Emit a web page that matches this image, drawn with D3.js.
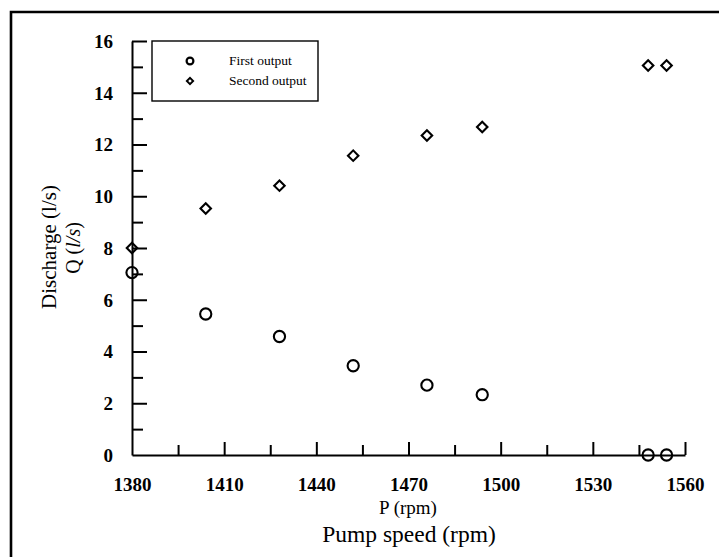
<!DOCTYPE html>
<html>
<head>
<meta charset="utf-8">
<script src="https://cdn.jsdelivr.net/npm/d3@7"></script>
<style>
html,body{margin:0;padding:0;background:#fff;}
svg{display:block;}
</style>
</head>
<body>
<svg id="chart" width="719" height="557"></svg>
<script>
// ---- data ----
const speedFirst = [1380, 1404, 1428, 1452, 1476, 1494, 1548, 1554];
const dischargeFirst = [7.05, 5.45, 4.58, 3.45, 2.7, 2.33, 0, 0];
const speedSecond = [1380, 1404, 1428, 1452, 1476, 1494, 1548, 1554];
const dischargeSecond = [8.0, 9.53, 10.41, 11.57, 12.35, 12.68, 15.05, 15.05];
const xMajorTicks = [1380, 1410, 1440, 1470, 1500, 1530, 1560];
const xMinorTicks = [1395, 1425, 1455, 1485, 1515, 1545];
const yMajorTicks = [0, 2, 4, 6, 8, 10, 12, 14, 16];
const yMinorTicks = [1, 3, 5, 7, 9, 11, 13, 15];
const seriesNames = ["First output", "Second output"];

const svg = d3.select("#chart");
const serif = "'Liberation Serif','Times New Roman',serif";

// outer frame (left and top edges)
svg.append("path")
  .attr("d", "M11,557V12H719")
  .attr("fill", "none").attr("stroke", "#000").attr("stroke-width", 2.6);

const x = d3.scaleLinear().domain([1380, 1560]).range([132, 685]);
const y = d3.scaleLinear().domain([0, 16]).range([455, 41]);

// X axis
const gx = svg.append("g").attr("transform", "translate(0,455)");
gx.call(d3.axisBottom(x).tickValues(xMajorTicks).tickSizeInner(-13).tickSizeOuter(0).tickPadding(0).tickFormat(d3.format("d")));
gx.selectAll(".tick line").filter(d => d === 1380).remove();
const gxm = svg.append("g").attr("transform", "translate(0,455)");
gxm.call(d3.axisBottom(x).tickValues(xMinorTicks).tickSizeInner(-10).tickSizeOuter(0).tickFormat(""));
gxm.select(".domain").remove();

// Y axis
const gy = svg.append("g").attr("transform", "translate(132,0)");
gy.call(d3.axisLeft(y).tickValues(yMajorTicks).tickSizeInner(-15).tickSizeOuter(0).tickPadding(19));
gy.selectAll(".tick line").filter(d => d === 0).remove();
const gym = svg.append("g").attr("transform", "translate(132,0)");
gym.call(d3.axisLeft(y).tickValues(yMinorTicks).tickSizeInner(-11).tickSizeOuter(0).tickFormat(""));
gym.select(".domain").remove();

[gx, gxm, gy, gym].forEach(g => {
  g.selectAll("path.domain").attr("stroke", "#000").attr("stroke-width", 2);
  g.selectAll(".tick line").attr("stroke", "#000").attr("stroke-width", 2);
});
gx.selectAll(".tick text")
  .attr("y", 36).attr("dy", null)
  .attr("font-family", serif).attr("font-size", 19).attr("font-weight", "bold").attr("fill", "#000");
gy.selectAll(".tick text")
  .attr("dy", "0.34em")
  .attr("font-family", serif).attr("font-size", 19).attr("font-weight", "bold").attr("fill", "#000");

// series
const first = speedFirst.map((s, i) => ({s, q: dischargeFirst[i]}));
const second = speedSecond.map((s, i) => ({s, q: dischargeSecond[i]}));

svg.append("g").selectAll("circle").data(first).join("circle")
  .attr("cx", d => x(d.s)).attr("cy", d => y(d.q)).attr("r", 5.6)
  .attr("fill", "none").attr("stroke", "#000").attr("stroke-width", 2.1);

const diamond = d3.symbol().type(d3.symbolSquare).size(55);
svg.append("g").selectAll("path").data(second).join("path")
  .attr("d", diamond)
  .attr("transform", d => `translate(${x(d.s)},${y(d.q)}) rotate(45)`)
  .attr("fill", "none").attr("stroke", "#000").attr("stroke-width", 2.1);

// legend
const lg = svg.append("g");
lg.append("rect").attr("x", 152).attr("y", 41).attr("width", 166).attr("height", 60)
  .attr("fill", "#fff").attr("stroke", "#000").attr("stroke-width", 1.4);
lg.append("circle").attr("cx", 190).attr("cy", 61).attr("r", 3.4)
  .attr("fill", "none").attr("stroke", "#000").attr("stroke-width", 2.2);
lg.append("path").attr("d", d3.symbol().type(d3.symbolSquare).size(20)())
  .attr("transform", "translate(190,81) rotate(45)")
  .attr("fill", "none").attr("stroke", "#000").attr("stroke-width", 1.9);
lg.selectAll("text").data(seriesNames).join("text")
  .attr("x", 229).attr("y", (d, i) => 65 + i * 20)
  .attr("font-family", serif).attr("font-size", 13.5).attr("fill", "#000")
  .text(d => d);

// axis titles
svg.append("text").attr("x", 408).attr("y", 514).attr("text-anchor", "middle")
  .attr("font-family", serif).attr("font-size", 19).text("P (rpm)");
svg.append("text").attr("x", 409).attr("y", 542).attr("text-anchor", "middle")
  .attr("font-family", serif).attr("font-size", 23.5).text("Pump speed (rpm)");
svg.append("text").attr("transform", "translate(56,247) rotate(-90)").attr("text-anchor", "middle")
  .attr("font-family", serif).attr("font-size", 21).text("Discharge (l/s)");
const qt = svg.append("text").attr("transform", "translate(80,248) rotate(-90)").attr("text-anchor", "middle")
  .attr("font-family", serif).attr("font-size", 20);
qt.append("tspan").text("Q (");
qt.append("tspan").attr("font-style", "italic").text("l/s");
qt.append("tspan").text(")");
</script>
</body>
</html>
